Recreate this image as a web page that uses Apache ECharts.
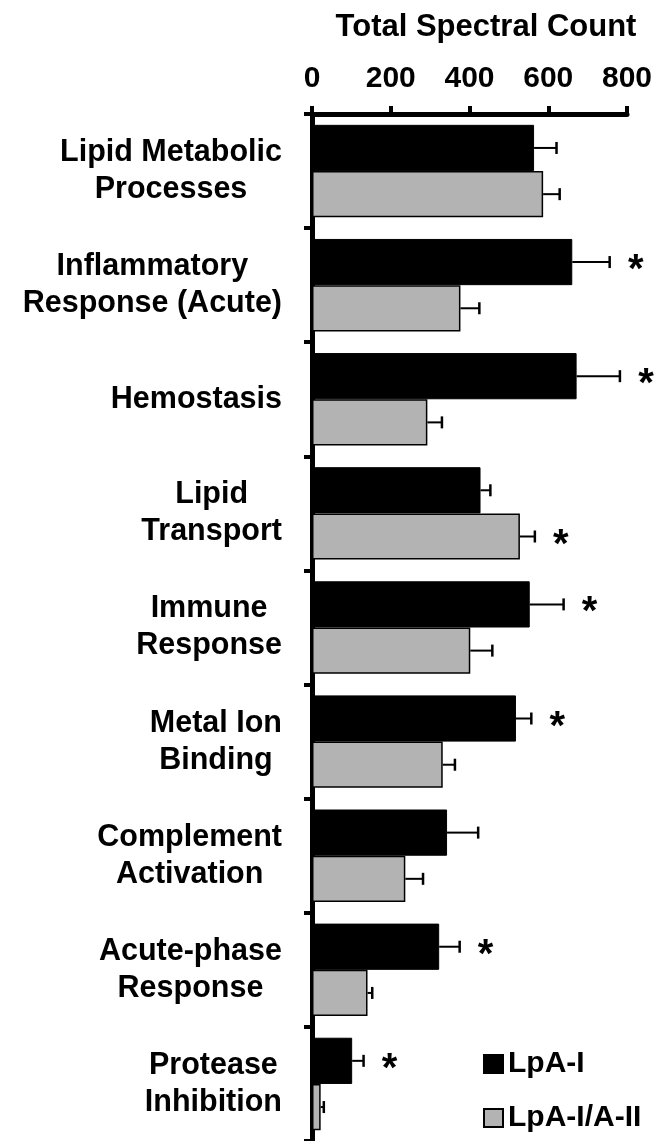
<!DOCTYPE html>
<html><head><meta charset="utf-8">
<script src="https://cdn.jsdelivr.net/npm/echarts@6/dist/echarts.min.js"></script>
<style>html,body{margin:0;padding:0;background:#fff}#c{width:656px;height:1141px}</style>
</head><body><div id="c"></div>
<script>
const categories = [
  'Lipid Metabolic\nProcesses',
  'Inflammatory\nResponse (Acute)',
  'Hemostasis',
  'Lipid\nTransport',
  'Immune\nResponse',
  'Metal Ion\nBinding',
  'Complement\nActivation',
  'Acute-phase\nResponse',
  'Protease\nInhibition'
];
const seriesNames = ['LpA-I', 'LpA-I/A-II'];
const lpaI     = [564, 661, 672, 428, 553, 518, 343, 323, 102];
const lpaIErr  = [57, 95, 110, 25, 86, 39, 79, 52, 29];
const lpaII    = [587, 377, 293, 528, 402, 332, 237, 141, 22];
const lpaIIErr = [42, 48, 37, 38, 56, 31, 45, 12, 8];
const sigI     = [0, 1, 1, 0, 1, 1, 0, 1, 1];
const sigII    = [0, 0, 0, 1, 0, 0, 0, 0, 0];
const xTicks   = [0, 200, 400, 600, 800];
const axisTitle = 'Total Spectral Count';

const FONT = '"Liberation Sans", Arial, Helvetica, sans-serif';
const GAP = 0.19;

const chart = echarts.init(document.getElementById('c'), null, {renderer: 'canvas'});
const errData = categories.map((c, i) => [i, lpaI[i], lpaIErr[i], lpaII[i], lpaIIErr[i], sigI[i], sigII[i]]);

chart.setOption({
  animation: false,
  backgroundColor: '#fff',
  title: {
    text: axisTitle, left: 481, top: 7, textAlign: 'center',
    textStyle: {fontFamily: FONT, fontSize: 31, fontWeight: 'bold', color: '#000'}
  },
  grid: {left: 312, right: 29, top: 114, bottom: 0, containLabel: false},
  legend: {
    data: seriesNames, orient: 'vertical', left: 483, top: 1049,
    itemWidth: 19, itemHeight: 18, itemGap: 24, padding: 0,
    icon: 'rect',
    textStyle: {fontFamily: FONT, fontSize: 30, fontWeight: 'bold', color: '#000', lineHeight: 30}
  },
  xAxis: {
    type: 'value', position: 'top',
    min: xTicks[0], max: xTicks[xTicks.length - 1], interval: xTicks[1] - xTicks[0],
    splitLine: {show: false},
    axisLine: {show: true, lineStyle: {color: '#000', width: 5}},
    axisTick: {show: true, inside: false, length: 8, lineStyle: {color: '#000', width: 4}},
    axisLabel: {margin: 20, fontFamily: FONT, fontSize: 30, fontWeight: 'bold', color: '#000'}
  },
  yAxis: {
    type: 'category', data: categories, inverse: true,
    axisLine: {show: true, lineStyle: {color: '#000', width: 5}},
    axisTick: {show: true, inside: false, length: 8, lineStyle: {color: '#000', width: 4}},
    axisLabel: {
      margin: 30,
      formatter: v => v.split('\n').map(s => '{c|' + s + '}').join('\n'),
      rich: {c: {fontFamily: FONT, fontSize: 30.5, fontWeight: 'bold', color: '#000', lineHeight: 37, align: 'center'}}
    }
  },
  series: [
    {
      name: seriesNames[0], type: 'bar', data: lpaI,
      barGap: '0%', barCategoryGap: (GAP * 100) + '%',
      itemStyle: {color: '#000', borderColor: '#000', borderWidth: 1}
    },
    {
      name: seriesNames[1], type: 'bar', data: lpaII,
      barGap: '0%', barCategoryGap: (GAP * 100) + '%',
      itemStyle: {color: '#b3b3b3', borderColor: '#000', borderWidth: 1.5}
    },
    {
      type: 'custom', data: errData, encode: {y: 0, x: 1}, z: 5,
      renderItem(params, api) {
        const i = api.value(0);
        const band = api.size([0, 1])[1];
        const bw = band * (1 - GAP) / 2;
        const yc = api.coord([0, i])[1];
        const children = [];
        [[1, 2, 5, -1], [3, 4, 6, 1]].forEach(([vi, ei, si, dir]) => {
          const v = api.value(vi), e = api.value(ei), s = api.value(si);
          const y = yc + dir * bw / 2;
          const x0 = api.coord([v, i])[0], x1 = api.coord([v + e, i])[0];
          children.push({type: 'line', shape: {x1: x0, y1: y, x2: x1, y2: y}, style: {stroke: '#000', lineWidth: 2}});
          children.push({type: 'line', shape: {x1: x1, y1: y - 6, x2: x1, y2: y + 6}, style: {stroke: '#000', lineWidth: 2.5}});
          if (s) {
            children.push({type: 'text', x: x1 + 26, y: y + 9,
              style: {text: '*', fontSize: 40, fontWeight: 'bold', fontFamily: FONT, fill: '#000', align: 'center', verticalAlign: 'middle'}});
          }
        });
        return {type: 'group', children};
      }
    }
  ]
});
</script>
</body></html>
